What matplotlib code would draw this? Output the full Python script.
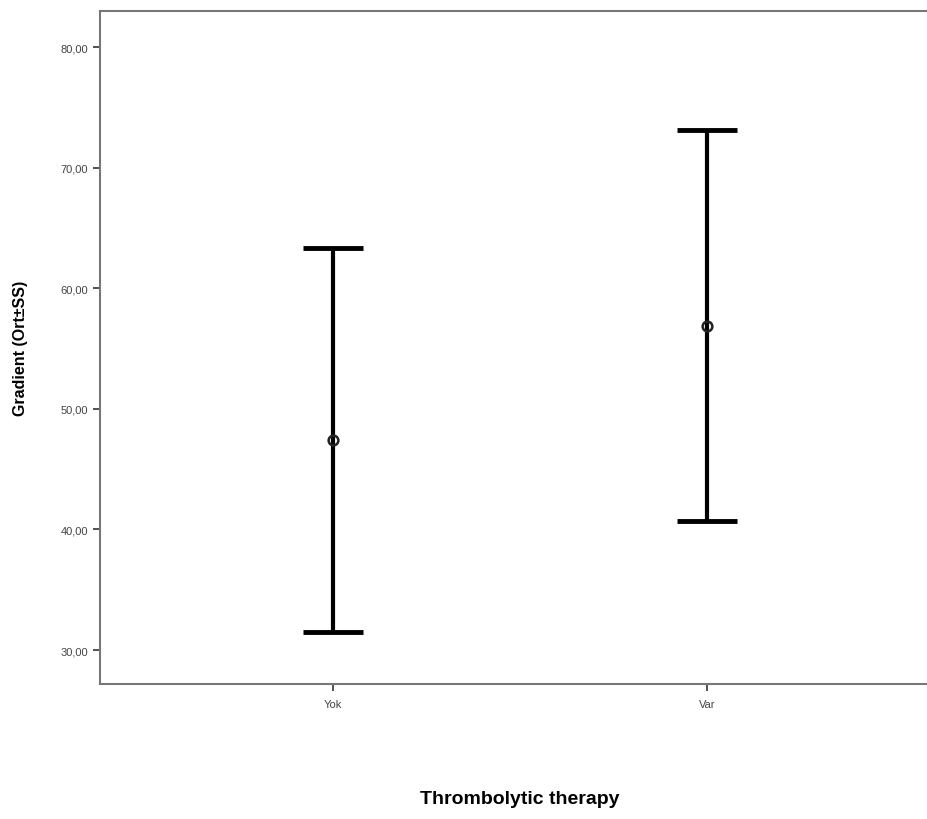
import matplotlib

matplotlib.use("Agg")
import matplotlib.pyplot as plt
from matplotlib.ticker import FuncFormatter

# Data (mean +/- SD)
groups = ["Yok", "Var"]
means = [47.4, 56.9]
sds = [15.9, 16.2]

yticks = [30, 40, 50, 60, 70, 80]

plt.rcParams["font.family"] = ["Liberation Sans", "DejaVu Sans"]

fig = plt.figure(figsize=(9.27, 8.2), dpi=100, facecolor="white")
ax = fig.add_axes([0.1079, 0.1646, 0.906, 0.8207])

x = list(range(len(groups)))
# error bars (caps thick, like SPSS output)
ax.errorbar(x, means, yerr=sds, fmt="none", ecolor="black",
            elinewidth=3, capsize=21.5, capthick=3.5)
# mean markers
ax.plot(x, means, "o", markersize=7, markerfacecolor="none",
        markeredgecolor="#222222", markeredgewidth=1.8, zorder=5)

ax.set_xlim(-0.623, 1.623)
ax.set_ylim(27.18, 82.99)
ax.set_xticks(x)
ax.set_xticklabels(groups)
ax.set_yticks(yticks)
ax.yaxis.set_major_formatter(FuncFormatter(lambda v, p: f"{v:.2f}".replace(".", ",")))

ax.tick_params(axis="both", direction="out", length=5, width=1.2,
               colors="#333333", labelsize=8, labelcolor="#444444")
ax.tick_params(axis="x", pad=6)

for side in ["left", "bottom", "top", "right"]:
    ax.spines[side].set_color("#777777")
    ax.spines[side].set_linewidth(1.5)

ax.set_ylabel("Gradient (Ort±SS)", fontsize=11.5, fontweight="bold")
ax.yaxis.set_label_coords(-0.086, 0.5)
ax.set_xlabel("Thrombolytic therapy", fontsize=14, fontweight="bold")
ax.xaxis.set_label_coords(0.5, -0.158)

fig.savefig("out.png", dpi=100)
